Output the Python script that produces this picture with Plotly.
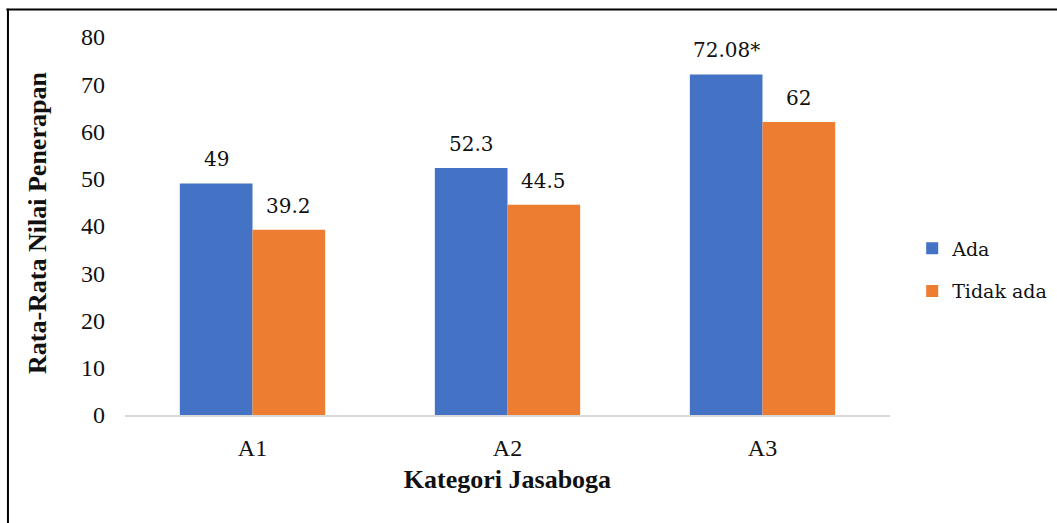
import plotly.graph_objects as go

categories = ["A1", "A2", "A3"]
ada = [49, 52.3, 72.08]
tidak_ada = [39.2, 44.5, 62]
ada_labels = ["49", "52.3", "72.08*"]
tidak_ada_labels = ["39.2", "44.5", "62"]

FONT = "serif"
LABEL_FONT = "DejaVu Serif"
BLUE = "#4472C4"
ORANGE = "#ED7D31"
TEXT = "#111111"

fig = go.Figure()
fig.add_trace(go.Bar(name="Ada", x=categories, y=ada, marker_color=BLUE,
                     marker_line_width=0, legendgroup="ada"))
fig.add_trace(go.Bar(name="Tidak ada", x=categories, y=tidak_ada, marker_color=ORANGE,
                     marker_line_width=0, legendgroup="tidak"))

# value labels above each bar
for i, cat in enumerate(categories):
    fig.add_annotation(x=cat, y=ada[i], text=ada_labels[i], xshift=-36, yshift=24,
                       showarrow=False, font=dict(family=LABEL_FONT, size=20, color=TEXT))
    fig.add_annotation(x=cat, y=tidak_ada[i], text=tidak_ada_labels[i], xshift=36, yshift=24,
                       showarrow=False, font=dict(family=LABEL_FONT, size=20, color=TEXT))

# vertical axis title
fig.add_annotation(xref="paper", yref="paper", x=-0.1137, y=0.508, textangle=-90,
                   text="<b>Rata-Rata Nilai Penerapan</b>", showarrow=False,
                   xanchor="center", yanchor="middle",
                   font=dict(family=FONT, size=26, color=TEXT))

# frame lines along the top and left of the figure
fig.add_shape(type="line", xref="paper", yref="paper", x0=-0.155, x1=1.3, y0=1.073, y1=1.073,
              line=dict(color="black", width=2))
fig.add_shape(type="line", xref="paper", yref="paper", x0=-0.153, x1=-0.153, y0=1.075, y1=-0.3,
              line=dict(color="black", width=2))

fig.update_layout(
    width=1057, height=523,
    margin=dict(l=125, r=167, t=37, b=108, autoexpand=False),
    paper_bgcolor="white", plot_bgcolor="white",
    barmode="group", bargap=0.43, bargroupgap=0,
    font=dict(family=FONT, size=24, color=TEXT),
    showlegend=True,
    legend=dict(x=1.029, y=0.3836, yanchor="middle", xanchor="left",
                font=dict(family=LABEL_FONT, size=19, color=TEXT),
                itemwidth=30, tracegroupgap=15, bgcolor="rgba(0,0,0,0)"),
    xaxis=dict(showline=True, linecolor="#D9D9D9", linewidth=1.5, ticks="",
               tickfont=dict(family=FONT, size=24, color=TEXT), showgrid=False,
               ticklabelstandoff=10,
               title=dict(text="<b>Kategori Jasaboga</b>", font=dict(family=FONT, size=26, color=TEXT),
                          standoff=10)),
    yaxis=dict(range=[0, 80], dtick=10, showgrid=False, showline=False, zeroline=False,
               ticks="", tickfont=dict(family=FONT, size=24, color=TEXT), ticklabelstandoff=19),
)

fig.write_html("out.html")
